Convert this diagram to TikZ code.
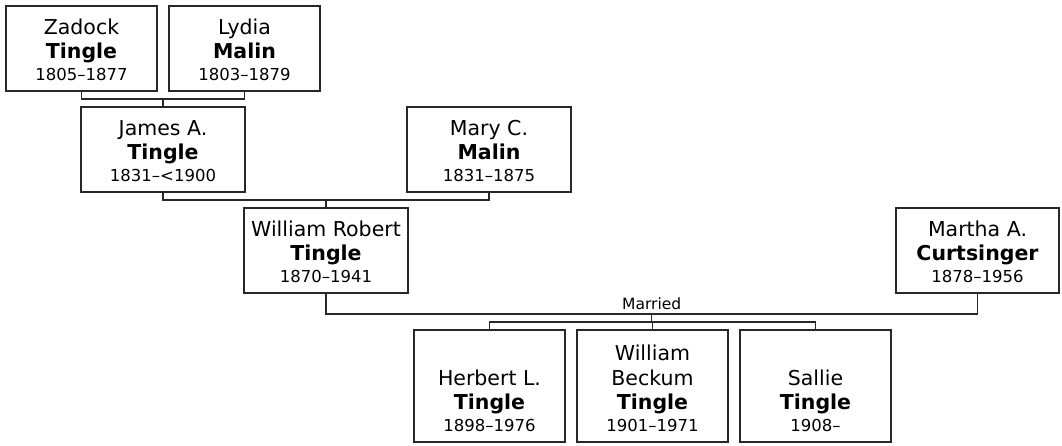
\documentclass[tikz,border=0pt]{standalone}
\usepackage{fontspec}
\setmainfont{DejaVu Sans}
\usepackage{tikz}
\usetikzlibrary{positioning, calc}
\definecolor{boxline}{RGB}{40,40,40}

\newcommand{\namefont}{\fontsize{20.5}{24.5}\selectfont}
\newcommand{\datefont}{\fontsize{16.5}{22}\selectfont}
% width, height, given names, surname, dates
\newcommand{\person}[5]{%
  \parbox[c][#2pt][b]{#1pt}{\centering
    \namefont #3\par
    \textbf{#4}\par
    \datefont #5\par
    \vspace{10pt}}}

\begin{document}
\begin{tikzpicture}[
    x=1pt, y=-1pt,
    node distance=12pt,
    pbox/.style={rectangle, draw=boxline, line width=1.2pt, inner sep=0pt,
                 outer sep=0pt, anchor=north west},
    link/.style={draw=boxline, line width=1.2pt},
]
    \useasboundingbox (0,0) rectangle (1062,445);

    % grandparents
    \node[pbox] (zadock) at (6,6) {\person{151}{85}{Zadock}{Tingle}{1805--1877}};
    \node[pbox, right=of zadock] (lydia) {\person{151}{85}{Lydia}{Malin}{1803--1879}};

    % parents
    \node[pbox] (james) at (81,107) {\person{164}{85}{James A.}{Tingle}{1831--<1900}};
    \node[pbox] (mary)  at (407,107) {\person{164}{85}{Mary C.}{Malin}{1831--1875}};

    % couple
    \node[pbox] (wrobert) at (244,208) {\person{164}{85}{William Robert}{Tingle}{1870--1941}};
    \node[pbox] (martha)  at (896,208) {\person{163}{85}{Martha A.}{Curtsinger}{1878--1956}};

    % children
    \node[pbox] (herbert) at (414,330) {\person{151}{112}{Herbert L.}{Tingle}{1898--1976}};
    \node[pbox, right=of herbert] (beckum) {\person{151}{112}{William\\Beckum}{Tingle}{1901--1971}};
    \node[pbox, right=of beckum] (sallie) {\person{151}{112}{Sallie}{Tingle}{1908--}};

    % family lines
    \draw[link] (zadock.south) -- ++(0,8) -| (lydia.south);
    \draw[link] (james.north) -- ++(0,-8);

    \draw[link] (james.south) -- ++(0,8) -| (mary.south);
    \draw[link] (wrobert.north) -- ++(0,-8);

    \draw[link] (wrobert.south) -- ++(0,21) -| (martha.south);
    \coordinate (wedding) at ($(wrobert.south)!0.5!(martha.south)+(0,21)$);
    \node[above=4.5pt of wedding, inner sep=0pt, font=\fontsize{15.5}{18}\selectfont] (married) {Married};

    \draw[link] (wedding) -- ++(0,8);
    \draw[link] (herbert.north) -- ++(0,-8) -| (sallie.north);
    \draw[link] (beckum.north) -- ++(0,-8);
\end{tikzpicture}
\end{document}
